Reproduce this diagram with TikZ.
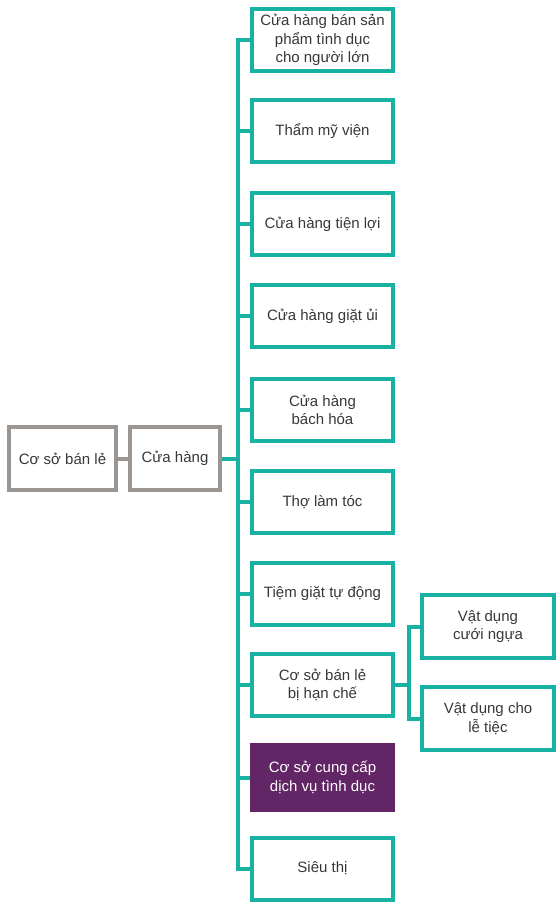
\documentclass[tikz,border=0pt]{standalone}
\usepackage{fontspec}
\setmainfont{Liberation Sans}
\definecolor{teal1}{RGB}{24,178,163}
\definecolor{gray1}{RGB}{155,150,146}
\definecolor{purp}{RGB}{98,37,101}
\definecolor{txt}{RGB}{55,55,55}
\begin{document}
\begin{tikzpicture}[x=1pt,y=-1pt,
  base/.style={line width=4pt, align=center, text=txt, inner sep=2pt,
    font=\fontsize{15}{18.5}\selectfont, minimum height=62pt},
  tbox/.style={base, draw=teal1, minimum width=141pt},
  gbox/.style={base, draw=gray1},
  pbox/.style={base, draw=purp, fill=purp, text=white, minimum width=141pt, minimum height=65pt},
  sbox/.style={base, draw=teal1, minimum width=132pt},
  conn/.style={draw=teal1, line width=4pt},
  gconn/.style={draw=gray1, line width=4pt}]
\useasboundingbox (0,0) rectangle (556,902);

\node[gbox, minimum width=107pt, minimum height=63pt] (csb) at (62.5,458.5) {Cơ sở bán lẻ};
\node[gbox, minimum width=90pt, minimum height=63pt] (ch) at (175,458.5) {Cửa hàng};

\node[tbox] (b1) at (322.5,40) {Cửa hàng bán sản\\phẩm tình dục\\cho người lớn};
\node[tbox] (b2) at (322.5,131) {Thẩm mỹ viện};
\node[tbox] (b3) at (322.5,224) {Cửa hàng tiện lợi};
\node[tbox] (b4) at (322.5,316) {Cửa hàng giặt ủi};
\node[tbox] (b5) at (322.5,410) {Cửa hàng\\bách hóa};
\node[tbox] (b6) at (322.5,502) {Thợ làm tóc};
\node[tbox] (b7) at (322.5,594) {Tiệm giặt tự động};
\node[tbox] (b8) at (322.5,685) {Cơ sở bán lẻ\\bị hạn chế};
\node[pbox] (b9) at (322.5,777.5) {Cơ sở cung cấp\\dịch vụ tình dục};
\node[tbox] (b10) at (322.5,868.5) {Siêu thị};

\node[sbox, minimum height=63pt] (s1) at (488,626.5) {Vật dụng\\cưới ngựa};
\node[sbox, minimum height=63pt] (s2) at (488,718.5) {Vật dụng cho\\lễ tiệc};

\coordinate (sp) at (238,0);
\coordinate (sx) at (409,0);

\draw[gconn] (csb.east) -- (ch.west);
\draw[conn] (ch.east) -- (sp |- ch.east);
\draw[conn] (b1.west) -- (sp |- b1.west) -- (sp |- b10.west) -- (b10.west);
\foreach \b in {b2,b3,b4,b5,b6,b7,b8,b9}
  \draw[conn] (\b.west) -- (sp |- \b.west);
\draw[conn] (b8.east) -- (sx |- b8.east);
\draw[conn] (s1.west) -- (sx |- s1.west) -- (sx |- s2.west) -- (s2.west);
\end{tikzpicture}
\end{document}
